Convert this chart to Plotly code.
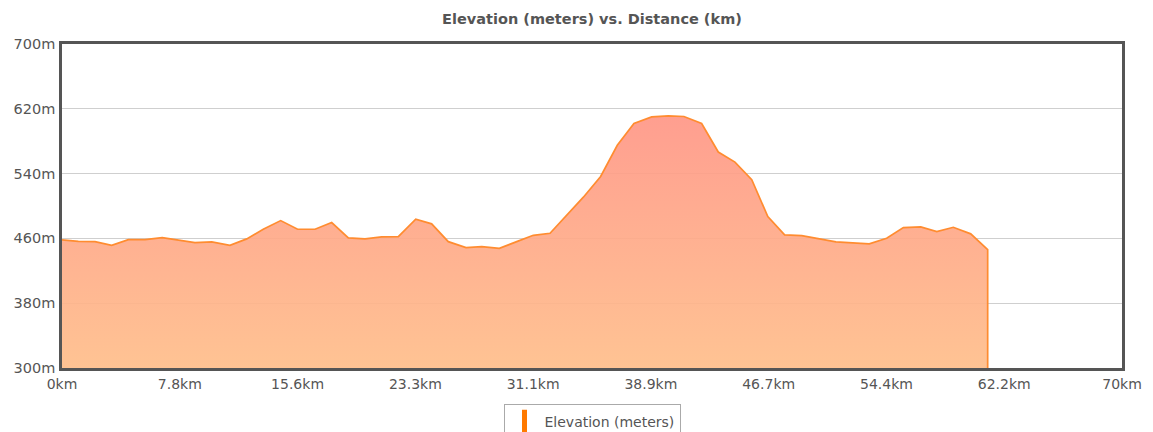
import plotly.graph_objects as go

# ---- data ----
distance_km = [0.00, 1.08, 2.18, 3.28, 4.38, 5.48, 6.62, 7.73, 8.78, 9.89,
               11.09, 12.20, 13.29, 14.44, 15.56, 16.71, 17.81, 18.91, 20.01, 21.11,
               22.21, 23.36, 24.41, 25.51, 26.68, 27.72, 28.88, 30.03, 31.12, 32.23,
               33.33, 34.43, 35.57, 36.67, 37.77, 38.94, 40.04, 41.07, 42.24, 43.34,
               44.44, 45.55, 46.61, 47.72, 48.85, 49.94, 51.11, 52.21, 53.31, 54.46,
               55.56, 56.71, 57.77, 58.86, 60.01, 61.13]
elevation_m = [458.1, 456.4, 456.0, 451.5, 458.5, 458.5, 461.0, 457.6, 454.8, 455.7,
               451.5, 459.4, 471.3, 482.0, 471.3, 471.3, 479.6, 460.6, 459.4, 461.9,
               462.2, 483.7, 478.0, 456.0, 448.6, 449.8, 447.7, 456.0, 463.8, 466.3,
               488.2, 510.9, 536.5, 574.9, 601.8, 610.0, 611.2, 610.5, 601.8, 566.6,
               554.2, 532.4, 487.0, 464.3, 463.5, 459.4, 455.7, 454.4, 453.2, 460.1,
               473.4, 474.2, 468.4, 473.7, 465.6, 446.1]

x_tick_vals = [0, 70 / 9, 140 / 9, 210 / 9, 280 / 9, 350 / 9, 420 / 9, 490 / 9, 560 / 9, 70]
x_tick_text = ["0km", "7.8km", "15.6km", "23.3km", "31.1km", "38.9km",
               "46.7km", "54.4km", "62.2km", "70km"]
y_tick_vals = [300, 380, 460, 540, 620, 700]
y_tick_text = ["300m", "380m", "460m", "540m", "620m", "700m"]

series_name = "Elevation (meters)"
title_text = "Elevation (meters) vs. Distance (km)"

x_range = [0, 70]
y_range = [300, 700]

FONT = "DejaVu Sans"
TEXT_COL = "#555555"

# closing the profile down to the axis floor at the last sample
xs = distance_km + [distance_km[-1]]
ys = elevation_m + [y_range[0]]

fig = go.Figure()
fig.add_trace(go.Scatter(
    x=xs, y=ys, mode="lines",
    line=dict(color="#ff8c30", width=1.7),
    fill="tozeroy",
    fillgradient=dict(
        type="vertical",
        start=y_range[0], stop=max(elevation_m),
        colorscale=[[0, "rgba(255,190,138,0.92)"], [1, "rgba(255,150,134,0.92)"]],
    ),
    showlegend=False,
    hoverinfo="skip",
))
# legend entry
fig.add_trace(go.Scatter(
    x=[None], y=[None], mode="markers", name=series_name,
    marker=dict(symbol="line-ns-open", color="#ff7a00", size=16,
                line=dict(width=5, color="#ff7a00")),
))

# page has an 8px body margin: figure sized so it fills the 1153x432 window
fig.update_layout(
    width=1145, height=424,
    margin=dict(l=54, r=31, t=36, b=64, autoexpand=False),
    paper_bgcolor="white", plot_bgcolor="white",
    font=dict(family=FONT, color=TEXT_COL, size=14),
    title=dict(text="<b>" + title_text + "</b>", x=0.5, xref="paper", xanchor="center",
               yref="container", y=0.975, yanchor="middle",
               font=dict(family=FONT, size=14.5, color=TEXT_COL)),
    showlegend=True,
    legend=dict(orientation="h", x=0.5, xanchor="center", yref="container",
                y=0.065, yanchor="top",
                bordercolor="#aaaaaa", borderwidth=1, bgcolor="white",
                font=dict(family=FONT, size=14, color=TEXT_COL),
                itemwidth=30, tracegroupgap=0),
)
fig.update_xaxes(
    range=x_range, tickmode="array", tickvals=x_tick_vals, ticktext=x_tick_text,
    showgrid=False, zeroline=False, showline=True, linecolor="#555555", linewidth=2.5,
    mirror=True, ticks="", tickfont=dict(family=FONT, size=14, color=TEXT_COL),
    ticklabelstandoff=1, automargin=False,
)
fig.update_yaxes(
    range=y_range, tickmode="array", tickvals=y_tick_vals, ticktext=y_tick_text,
    showgrid=True, gridcolor="#cfcfcf", gridwidth=1, zeroline=False,
    showline=True, linecolor="#555555", linewidth=2.5, mirror=True, ticks="",
    tickfont=dict(family=FONT, size=14.5, color=TEXT_COL),
    ticklabelstandoff=1, automargin=False,
)

fig.write_html("out.html")
